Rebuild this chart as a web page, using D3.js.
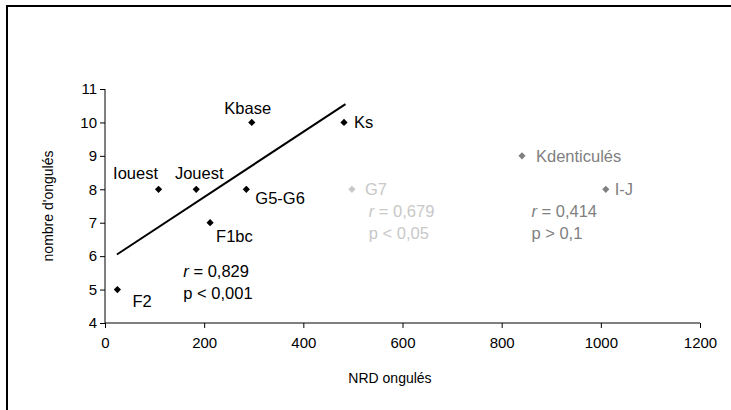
<!DOCTYPE html>
<html><head><meta charset="utf-8">
<script src="https://cdn.jsdelivr.net/npm/d3@7"></script>
<style>
html,body{margin:0;padding:0;background:#fff;}
svg{display:block;font-family:"Liberation Sans",Arial,sans-serif;}
</style></head>
<body>
<script>
// ---- data ----
const names   = ["F2","Iouest","Jouest","F1bc","G5-G6","Kbase","Ks","G7","Kdenticulés","I-J"];
const nrd     = [25, 108, 184, 212, 285, 296, 482, 498, 841, 1010];
const nombre  = [5, 8, 8, 7, 8, 10, 10, 8, 9, 8];
const groups  = ["a","a","a","a","a","a","a","b","c","c"];
const trendX  = [24, 485];
const trendY  = [6.05, 10.55];
const xTicks  = [0, 200, 400, 600, 800, 1000, 1200];
const yTicks  = [4, 5, 6, 7, 8, 9, 10, 11];
const statGroups = ["a","b","c"];
const statR      = ["0,829","0,679","0,414"];
const statP      = ["p < 0,001","p < 0,05","p > 0,1"];
const xTitle = "NRD ongulés";
const yTitle = "nombre d'ongulés";

// ---- styles / layout ----
const W = 731, H = 410;
const colors = {a:"#000000", b:"#c8c8c8", c:"#808080"};
const labelPos = { // dx, dy, anchor
  "F2":[15,12,"start"], "Iouest":[-23,-16,"middle"], "Jouest":[3,-16,"middle"],
  "F1bc":[6,14,"start"], "G5-G6":[9,9,"start"], "Kbase":[-4,-14,"middle"],
  "Ks":[10,0,"start"], "G7":[13,0,"start"], "Kdenticulés":[14,0,"start"], "I-J":[9,0,"start"]
};
const statPos = {a:[158,5.38], b:[532,7.17], c:[860,7.17]}; // data coords of first line baseline

const svg = d3.select("body").append("svg").attr("width",W).attr("height",H);

// outer frame (extends beyond picture)
svg.append("rect").attr("x",7).attr("y",6).attr("width",W+20).attr("height",H+20)
  .attr("fill","none").attr("stroke","#000").attr("stroke-width",2);

const x = d3.scaleLinear().domain([0,1200]).range([105,700]);
const y = d3.scaleLinear().domain([4,11]).range([323,89]);

const xAxis = svg.append("g").attr("transform",`translate(0,${y(4)})`)
  .call(d3.axisBottom(x).tickValues(xTicks).tickSize(5).tickPadding(9).tickFormat(d3.format("d")));
const yAxis = svg.append("g").attr("transform",`translate(${x(0)},0)`)
  .call(d3.axisLeft(y).tickValues(yTicks).tickSize(5).tickPadding(3).tickFormat(d3.format("d")));
[xAxis,yAxis].forEach(g=>{
  g.attr("font-size",null).attr("font-family",null);
  g.selectAll("path").attr("stroke","#000").attr("stroke-width",1);
  g.selectAll("line").attr("stroke","#000");
  g.selectAll("text").attr("font-size",15).attr("fill","#000");
});
xAxis.select(".domain").attr("d",`M${x(0)},0H${x(1200)}`);
yAxis.select(".domain").attr("d",`M0,${y(4)}V${y(11)}`);

// axis titles
svg.append("text").attr("x",390).attr("y",383).attr("text-anchor","middle")
  .attr("font-size",14).text(xTitle);
svg.append("text").attr("transform",`translate(53,${(y(4)+y(11))/2}) rotate(-90)`)
  .attr("text-anchor","middle").attr("font-size",14).text(yTitle);

// trend line
svg.append("line").attr("x1",x(trendX[0])).attr("y1",y(trendY[0]))
  .attr("x2",x(trendX[1])).attr("y2",y(trendY[1]))
  .attr("stroke","#000").attr("stroke-width",2);

// points (square diamonds)
const sym = d3.symbol().type(d3.symbolSquare).size(26);
names.forEach((n,i)=>{
  const px = x(nrd[i]), py = y(nombre[i]);
  svg.append("path").attr("d",sym).attr("transform",`translate(${px},${py}) rotate(45)`)
    .attr("fill",colors[groups[i]]);
  const lp = labelPos[n];
  svg.append("text").attr("x",px+lp[0]).attr("y",py+lp[1]).attr("dy","0.35em")
    .attr("text-anchor",lp[2]).attr("font-size",16.5).attr("fill",colors[groups[i]]).text(n);
});

// statistics
statGroups.forEach((g,i)=>{
  const sp = statPos[g];
  const t = svg.append("text").attr("x",x(sp[0])).attr("y",y(sp[1]))
    .attr("font-size",16.5).attr("fill",colors[g]);
  t.append("tspan").attr("font-style","italic").text("r");
  t.append("tspan").text(" = " + statR[i]);
  svg.append("text").attr("x",x(sp[0])).attr("y",y(sp[1])+22)
    .attr("font-size",16.5).attr("fill",colors[g]).text(statP[i]);
});
</script>
</body></html>
